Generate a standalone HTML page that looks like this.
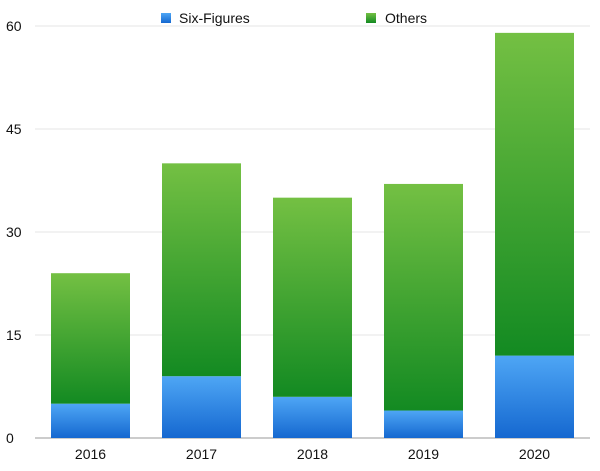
<!DOCTYPE html>
<html><head><meta charset="utf-8"><style>
body{margin:0;background:#fff;font-family:"Liberation Sans",sans-serif}
</style></head><body>
<svg id="chart" width="600" height="466" xmlns="http://www.w3.org/2000/svg" font-family="Liberation Sans, sans-serif">
<defs>
<linearGradient id="gb" x1="0" y1="0" x2="0" y2="1"><stop offset="0" stop-color="#4ea6f5"/><stop offset="1" stop-color="#1568d0"/></linearGradient>
<linearGradient id="gg" x1="0" y1="0" x2="0" y2="1"><stop offset="0" stop-color="#74c043"/><stop offset="1" stop-color="#138a22"/></linearGradient>
</defs>
<g id="grid"></g><g id="bars"></g><g id="labels"></g>
<g>
<rect x="161" y="13" width="10" height="10" fill="url(#gb)"/>
<text x="179" y="23" font-size="14" fill="#111">Six-Figures</text>
<rect x="366" y="13" width="10" height="10" fill="url(#gg)"/>
<text x="385" y="23" font-size="14" fill="#111">Others</text>
</g>
</svg>
<script>
const categories=["2016","2017","2018","2019","2020"];
const sixFigures=[5,9,6,4,12];
const others=[19,31,29,33,47];
const yTicks=[0,15,30,45,60];
const NS="http://www.w3.org/2000/svg";
const x0=35,x1=590,yTop=26,yBot=438,yMax=60;
const y=v=>yBot-(v/yMax)*(yBot-yTop);
const band=(x1-x0)/categories.length;
const bw=79;
function mk(t,a,p){const e=document.createElementNS(NS,t);for(const k in a)e.setAttribute(k,a[k]);p.appendChild(e);return e;}
const grid=document.getElementById('grid'),bars=document.getElementById('bars'),labels=document.getElementById('labels');
yTicks.forEach(t=>{
 const l=mk('line',{x1:x0,x2:x1,y1:y(t),y2:y(t),stroke:t===0?'#999':'#e4e4e4','stroke-width':1},grid);
 
 
 const tx=mk('text',{x:6,y:y(t)+5,'font-size':14,fill:'#111'},labels);tx.textContent=t;
 
 
});
categories.forEach((c,i)=>{
 const cx=x0+band*(i+0.5),bx=cx-bw/2;
 const b=mk('rect',{x:bx,y:y(sixFigures[i]),width:bw,height:yBot-y(sixFigures[i]),fill:'url(#gb)'},bars);
 
 
 const tot=sixFigures[i]+others[i];
 const g=mk('rect',{x:bx,y:y(tot),width:bw,height:y(sixFigures[i])-y(tot),fill:'url(#gg)'},bars);
 
 
 const tx=mk('text',{x:cx,y:459,'font-size':14,fill:'#111','text-anchor':'middle'},labels);tx.textContent=c;
 
 
});
</script>
</body></html>
